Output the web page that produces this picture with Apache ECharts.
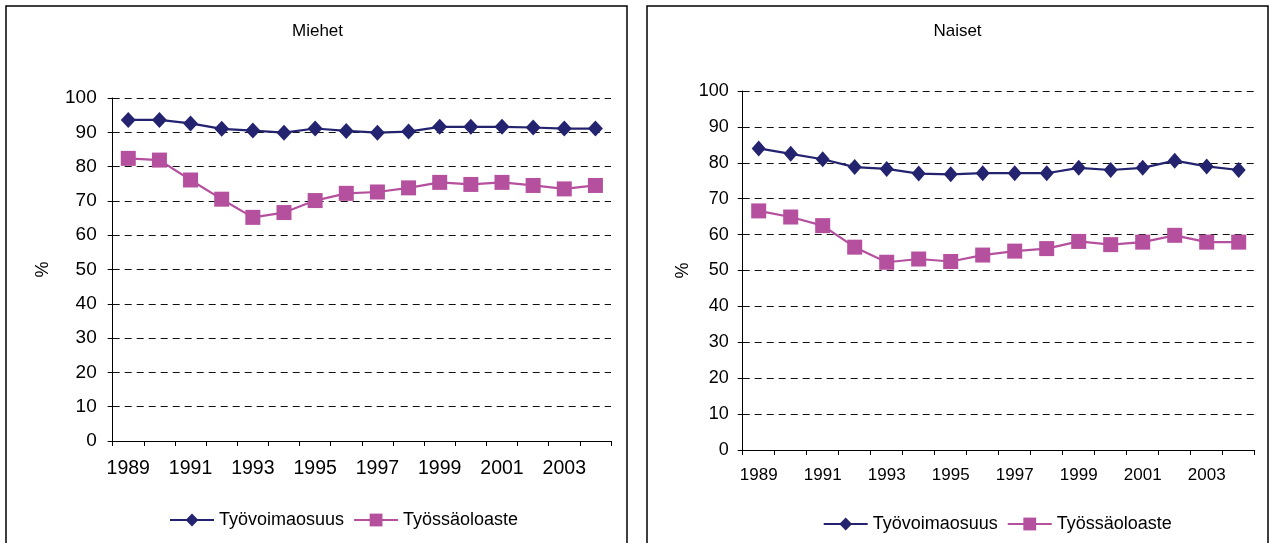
<!DOCTYPE html>
<html>
<head>
<meta charset="utf-8">
<script src="https://cdn.jsdelivr.net/npm/echarts@6/dist/echarts.min.js"></script>
<style>
html,body{margin:0;padding:0;background:#fff;}
#c{width:1272px;height:543px;}
</style>
</head>
<body>
<div id="c"></div>
<script>
const years = ['1989','1990','1991','1992','1993','1994','1995','1996','1997','1998','1999','2000','2001','2002','2003','2004'];
const yTicks = [0,10,20,30,40,50,60,70,80,90,100];
const seriesNames = ['Työvoimaosuus','Työssäoloaste'];
const panelTitles = ['Miehet','Naiset'];

const miehetTyovoima = [93.6,93.6,92.6,91.0,90.5,89.9,91.1,90.4,89.9,90.2,91.6,91.6,91.6,91.4,91.1,91.1];
const miehetTyossaolo = [82.4,81.9,76.1,70.5,65.2,66.6,70.1,72.2,72.6,73.8,75.4,74.8,75.4,74.5,73.5,74.5];
const naisetTyovoima = [84.0,82.5,81.0,78.8,78.3,77.0,76.8,77.1,77.1,77.1,78.6,78.0,78.6,80.6,79.0,78.0];
const naisetTyossaolo = [66.6,64.9,62.5,56.5,52.3,53.2,52.5,54.3,55.4,56.1,58.1,57.2,57.9,59.8,57.9,57.9];

const NAVY = '#24236f';
const PINK = '#b5509e';
const FONT = 'Liberation Sans, Arial, sans-serif';

const chart = echarts.init(document.getElementById('c'), null, {renderer:'canvas'});

function xAx(gi, fs, margin){
  return {
    type:'category', gridIndex:gi, data:years, boundaryGap:true,
    axisLine:{show:true, lineStyle:{color:'#000', width:1}},
    axisTick:{show:true, interval:0, length:5, lineStyle:{color:'#000'}},
    axisLabel:{interval:1, color:'#000', fontSize:fs, fontFamily:FONT, margin:margin},
    splitLine:{show:false}
  };
}
function yAx(gi, fs, margin, nameGap){
  return {
    type:'value', gridIndex:gi, min:yTicks[0], max:yTicks[yTicks.length-1], interval:10,
    name:'%', nameLocation:'middle', nameGap:nameGap,
    nameTextStyle:{color:'#000', fontSize:18, fontFamily:FONT},
    axisLine:{show:true, lineStyle:{color:'#000', width:1}},
    axisTick:{show:true, length:5, lineStyle:{color:'#000'}},
    axisLabel:{color:'#000', fontSize:fs, fontFamily:FONT, margin:margin},
    splitLine:{show:true, lineStyle:{color:'#111', width:1, type:[7,5]}}
  };
}
function ser(name, data, gi, isDiamond, size){
  return {
    name:name, type:'line', xAxisIndex:gi, yAxisIndex:gi, data:data,
    symbol: isDiamond ? 'diamond' : 'rect', symbolSize:size,
    showAllSymbol:true,
    lineStyle:{color: isDiamond ? NAVY : PINK, width:2.2},
    itemStyle:{color: isDiamond ? NAVY : PINK},
    emphasis:{disabled:true},
    animation:false
  };
}
function leg(left, top){
  return {data:seriesNames.map(n=>({name:n})), left:left, top:top, padding:0, itemGap:9,
     itemWidth:44, itemHeight:16,
     textStyle:{fontSize:18, color:'#000', fontFamily:FONT},
     selectedMode:false};
}

const option = {
  animation:false,
  backgroundColor:'#fff',
  textStyle:{fontFamily:FONT},
  title:[
    {text:panelTitles[0], left:317.5, top:23, textAlign:'center', padding:0,
     textStyle:{fontSize:17, fontWeight:'normal', color:'#000', fontFamily:FONT}},
    {text:panelTitles[1], left:957.5, top:23, textAlign:'center', padding:0,
     textStyle:{fontSize:17, fontWeight:'normal', color:'#000', fontFamily:FONT}}
  ],
  grid:[
    {left:112.7, top:98, width:498.3, height:343, containLabel:false},
    {left:742.7, top:91, width:512, height:359, containLabel:false}
  ],
  xAxis:[xAx(0,19.5,18), xAx(1,17,17)],
  yAxis:[yAx(0,19,16,61), yAx(1,18,14,51)],
  legend:[leg(169, 511), leg(822.7, 515)],
  series:[
    ser(seriesNames[0], miehetTyovoima, 0, true, [15,16]),
    ser(seriesNames[1], miehetTyossaolo, 0, false, 15),
    ser(seriesNames[0], naisetTyovoima, 1, true, [14,16]),
    ser(seriesNames[1], naisetTyossaolo, 1, false, 15)
  ],
  graphic:[
    {type:'rect', shape:{x:6, y:6, width:621, height:560}, style:{fill:null, stroke:'#000', lineWidth:1.5}, silent:true, z:-1},
    {type:'rect', shape:{x:647, y:6, width:621, height:560}, style:{fill:null, stroke:'#000', lineWidth:1.5}, silent:true, z:-1}
  ]
};
chart.setOption(option);
</script>
</body>
</html>
